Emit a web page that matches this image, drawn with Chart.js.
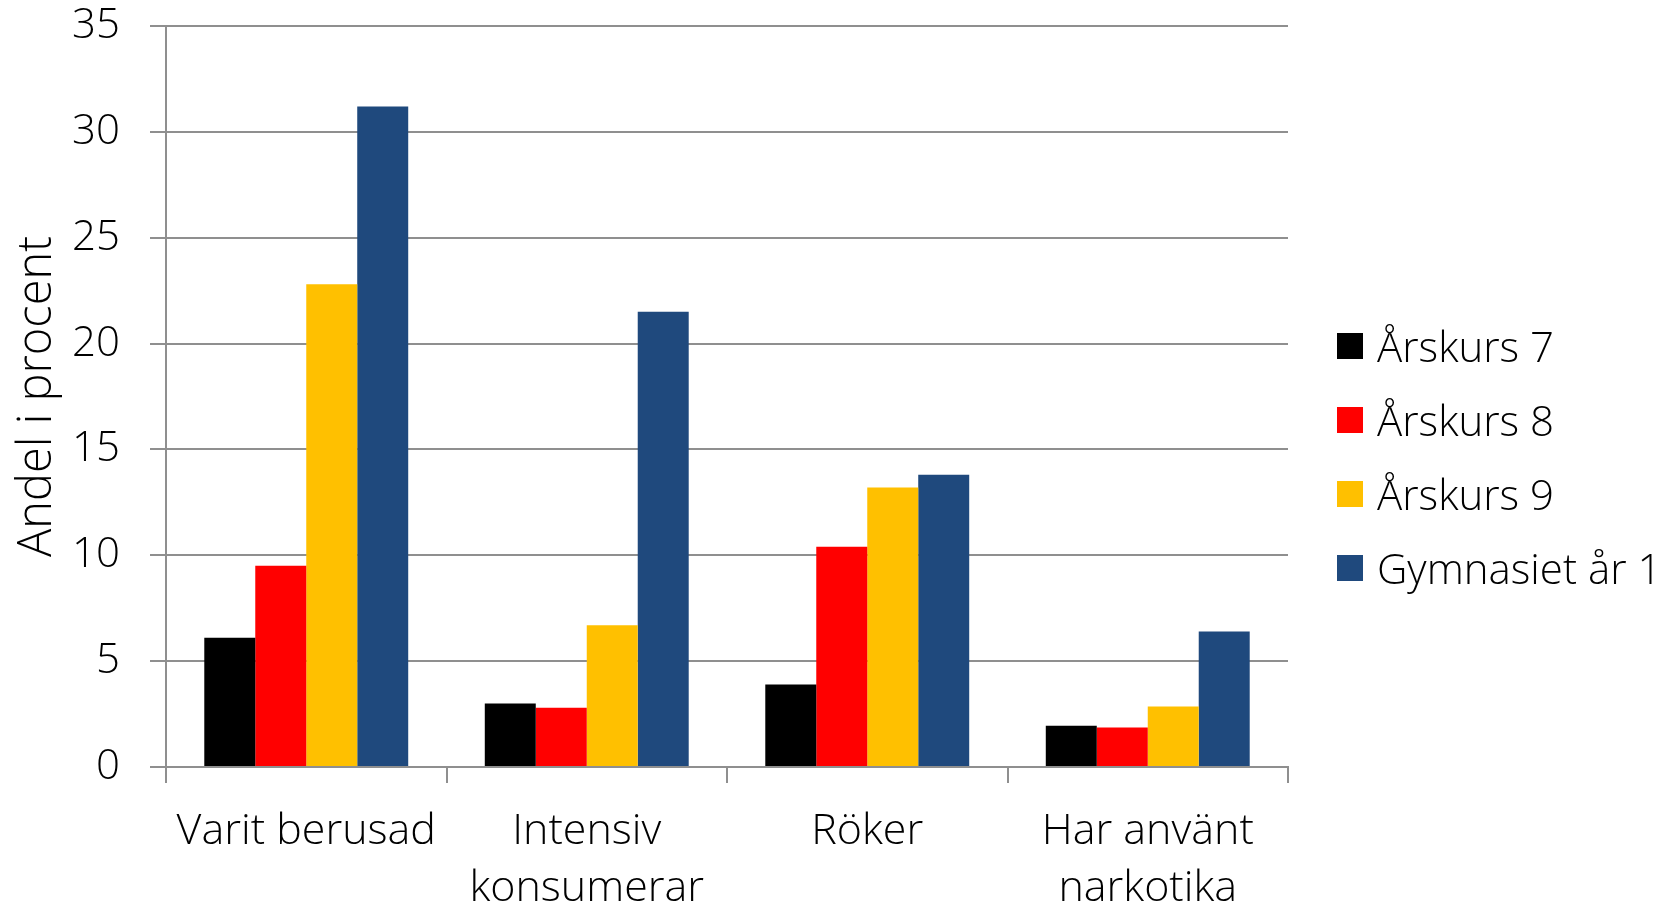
<!DOCTYPE html>
<html>
<head>
<meta charset="utf-8">
<script src="https://cdn.jsdelivr.net/npm/chart.js@4"></script>
<style>
    html, body { margin: 0; padding: 0; background: #fff; }
    #wrap { position: relative; width: 1680px; height: 908px; }
    #legend { position: absolute; left: 1337px; top: 0; font-family: 'Open Sans', sans-serif; font-weight: 300; font-size: 42px; color: #000; }
    .legend-item { position: absolute; left: 0; display: flex; align-items: center; white-space: nowrap; height: 60px; margin-top: -31px; }
    .legend-box { width: 26px; height: 26px; margin-right: 14px; margin-top: 2px; }
</style>
</head>
<body>
<div id="wrap">
    <canvas id="chart" width="1680" height="908"></canvas>
    <div id="legend"></div>
</div>
<script>
// Data
const categories = [['Varit berusad'], ['Intensiv', 'konsumerar'], ['Röker'], ['Har använt', 'narkotika']];
const seriesNames = ['Årskurs 7', 'Årskurs 8', 'Årskurs 9', 'Gymnasiet år 1'];
const arskurs7 = [6.1, 3.0, 3.9, 1.95];
const arskurs8 = [9.5, 2.8, 10.4, 1.87];
const arskurs9 = [22.8, 6.7, 13.2, 2.86];
const gymnasiet1 = [31.2, 21.5, 13.8, 6.4];
const yTicks = [0, 5, 10, 15, 20, 25, 30, 35];

const seriesValues = [arskurs7, arskurs8, arskurs9, gymnasiet1];
const seriesColors = ['#000000', '#ff0000', '#ffc000', '#1f497d'];

const fontFamily = "'Open Sans', sans-serif";
const gridColor = '#8f8f8f';

const datasets = seriesNames.map((name, i) => ({
    label: name,
    data: seriesValues[i],
    backgroundColor: seriesColors[i],
    borderWidth: 0,
    barPercentage: 1.0,
    categoryPercentage: 0.727
}));

const ctx = document.getElementById('chart').getContext('2d');
const chart = new Chart(ctx, {
    type: 'bar',
    data: { labels: categories, datasets: datasets },
    options: {
        responsive: false,
        animation: false,
        layout: { padding: { top: 0, right: 392, left: 0, bottom: 0 } },
        plugins: {
            legend: { display: false },
            tooltip: { enabled: false }
        },
        scales: {
            x: {
                grid: {
                    offset: true,
                    drawOnChartArea: false,
                    drawTicks: true,
                    tickLength: 16,
                    color: gridColor,
                    lineWidth: 2
                },
                border: { display: true, color: gridColor, width: 2 },
                ticks: {
                    color: '#000',
                    padding: 20,
                    maxRotation: 0,
                    autoSkip: false,
                    font: { family: fontFamily, weight: 300, size: 43, lineHeight: 1.33 }
                },
                afterFit: (scale) => { scale.height = 141; }
            },
            y: {
                min: 0,
                max: 35,
                afterBuildTicks: (scale) => { scale.ticks = yTicks.map(v => ({ value: v })); },
                grid: {
                    drawTicks: true,
                    tickLength: 16,
                    color: gridColor,
                    lineWidth: 2
                },
                border: { display: true, color: gridColor, width: 2 },
                ticks: {
                    color: '#000',
                    padding: 30,
                    font: { family: fontFamily, weight: 300, size: 42 }
                },
                title: {
                    display: true,
                    text: 'Andel i procent',
                    color: '#000',
                    padding: { top: 9, bottom: 0 },
                    font: { family: fontFamily, weight: 300, size: 47 }
                },
                afterFit: (scale) => {
                    scale.width = 166;
                    scale.paddingTop = 26;
                    scale.paddingBottom = 0;
                }
            }
        }
    }
});

// Legend to the right, built from the series arrays
const legendEl = document.getElementById('legend');
const legendRows = [346, 420, 494, 568];
seriesNames.forEach((name, i) => {
    const item = document.createElement('div');
    item.className = 'legend-item';
    item.style.top = legendRows[i] + 'px';
    item.innerHTML = `<span class="legend-box" style="background:${seriesColors[i]}"></span><span>${name}</span>`;
    legendEl.appendChild(item);
});
</script>
</body>
</html>
